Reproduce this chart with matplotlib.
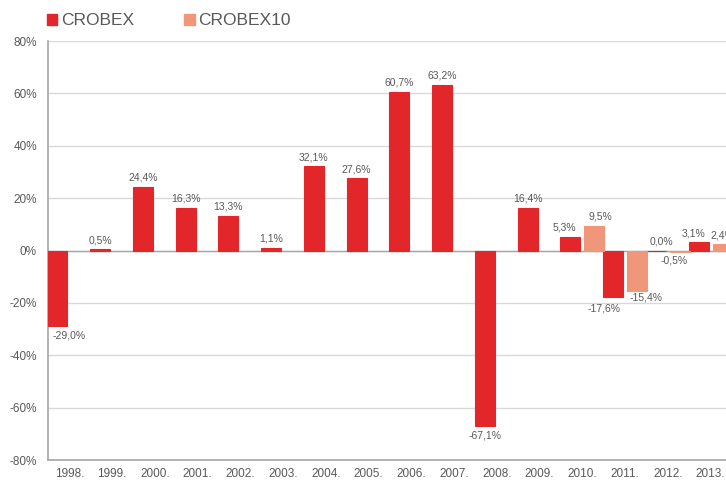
import numpy as np
import matplotlib.pyplot as plt
from matplotlib.patches import Patch

years = ['1998.', '1999.', '2000.', '2001.', '2002.', '2003.', '2004.', '2005.',
         '2006.', '2007.', '2008.', '2009.', '2010.', '2011.', '2012.', '2013.']
crobex = [-29.0, 0.5, 24.4, 16.3, 13.3, 1.1, 32.1, 27.6, 60.7, 63.2, -67.1, 16.4, 5.3, -17.6, 0.0, 3.1]
crobex10_years = ['2010.', '2011.', '2012.', '2013.']
crobex10 = [9.5, -15.4, -0.5, 2.4]

RED = '#e3262a'
SALMON = '#f0977b'
GREY = '#595959'

# hand nudges (pixels) for a few value labels, as placed in the original
nudge_red = {'1998.': (12, 0), '2010.': (-6, 0), '2011.': (-9, -3), '2012.': (6, 0), '2013.': (-5, 0)}
nudge_salmon = {'2010.': (6, 0), '2011.': (9, 2), '2012.': (-6, 0)}

plt.rcParams['font.family'] = ['Liberation Sans', 'DejaVu Sans']

def pct(v):
    return ('%.1f%%' % v).replace('.', ',')

def label_bars(ax, xs, vals, names, nudges):
    for xc, v, n in zip(xs, vals, names):
        dx, dy = nudges.get(n, (0, 0))
        if v >= 0:
            off, va = 3, 'bottom'
        else:
            off, va = -3, 'top'
        ax.annotate(pct(v), (xc, v), xytext=(dx * 0.72, off + dy * 0.72),
                    textcoords='offset points', ha='center', va=va,
                    fontsize=7.5, color=GREY, zorder=4)

fig = plt.figure(figsize=(7.26, 4.8), dpi=100)
ax = fig.add_axes([48 / 726, 1 - 460 / 480, 684 / 726, 419 / 480])

x = np.arange(len(years))
x10 = np.array([years.index(y) for y in crobex10_years])
w = 0.47
ax.bar(x - 0.28, crobex, width=w, color=RED, edgecolor=RED, linewidth=0.8, zorder=3)
ax.bar(x10 + 0.28, crobex10, width=w, color=SALMON, edgecolor=SALMON, linewidth=0.8, zorder=3)
label_bars(ax, x - 0.28, crobex, years, nudge_red)
label_bars(ax, x10 + 0.28, crobex10, crobex10_years, nudge_salmon)

ax.set_xlim(-0.5, len(years) - 0.5)
ax.set_ylim(-80, 80)
ax.set_yticks(np.arange(-80, 81, 20))
ax.set_yticklabels(['%d%%' % t for t in range(-80, 81, 20)])
ax.set_xticks(x)
ax.set_xticklabels(years)
ax.tick_params(length=0, colors=GREY, labelsize=8.5)
ax.tick_params(axis='x', pad=6)
ax.tick_params(axis='y', pad=8)

ax.grid(axis='y', color='#d9d9d9', linewidth=1, zorder=0)
ax.axhline(0, color='#a6a6a6', linewidth=1, zorder=2)
for s in ['top', 'right']:
    ax.spines[s].set_visible(False)
for s in ['left', 'bottom']:
    ax.spines[s].set_color('#a6a6a6')
    ax.spines[s].set_linewidth(1.2)

handles = [Patch(color=RED, label='CROBEX'), Patch(color=SALMON, label='CROBEX10')]
fig.legend(handles=handles, loc='upper left', bbox_to_anchor=(0.043, 1.005), ncol=2,
           frameon=False, fontsize=12.5, labelcolor=GREY, handlelength=0.6,
           handleheight=0.6, handletextpad=0.2, columnspacing=2.9)

fig.savefig('out.png', dpi=100)
